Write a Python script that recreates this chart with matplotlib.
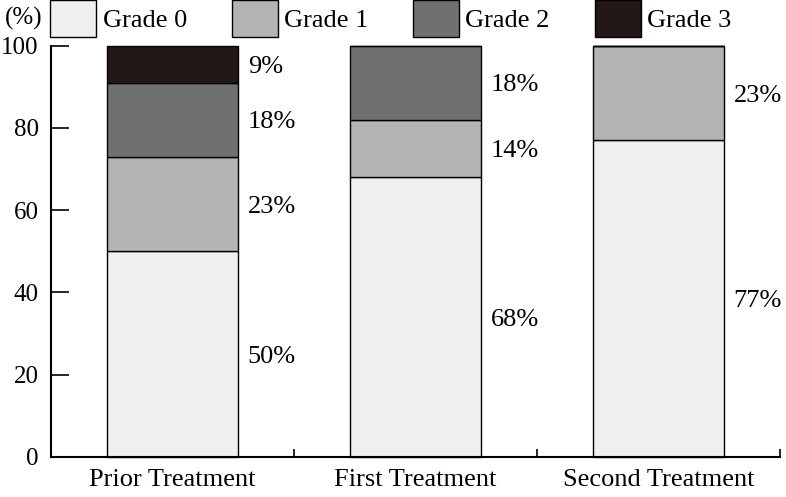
import numpy as np
import matplotlib.pyplot as plt

# Data
groups = ['Prior Treatment', 'First Treatment', 'Second Treatment']
grades = ['Grade 0', 'Grade 1', 'Grade 2', 'Grade 3']
grade0 = [50, 68, 77]
grade1 = [23, 14, 23]
grade2 = [18, 18, 0]
grade3 = [9, 0, 0]
colors = ['#eef0ef', '#b3b3b3', '#707070', '#231815']

plt.rcParams['font.family'] = ['Liberation Serif', 'DejaVu Serif']
plt.rcParams['font.size'] = 19

fig = plt.figure(figsize=(7.86, 4.97), dpi=100)
ax = fig.add_axes([0.065, 0.0805, 0.927, 0.8275])

x = np.arange(len(groups))
width = 0.54
bottom = np.zeros(len(groups))
for vals, name, col in zip([grade0, grade1, grade2, grade3], grades, colors):
    vals = np.array(vals, dtype=float)
    ax.bar(x, vals, width, bottom=bottom, color=col, edgecolor='black',
           linewidth=1, label=name, clip_on=False)
    # percentage labels right of each bar, at segment centre
    for xi, v, b in zip(x, vals, bottom):
        if v > 0:
            ax.text(xi + width / 2 + 0.04, b + v / 2, f'{int(v)}%',
                    ha='left', va='center_baseline', fontsize=19)
    bottom += vals

ax.set_xlim(-0.5, 2.5)
ax.set_ylim(0, 100)
ax.set_xticks(x)
ax.set_xticklabels(groups)
ax.set_xticks([0.5, 1.5, 2.5], minor=True)
ax.tick_params(axis='x', which='major', length=0, pad=9)
ax.tick_params(axis='x', which='minor', direction='in', length=6, width=1.2)
ax.set_yticks(range(0, 101, 20))
ax.tick_params(axis='y', direction='in', length=13, width=1.2, pad=9,
               labelsize=18)

for s in ['top', 'right']:
    ax.spines[s].set_visible(False)
for s in ['left', 'bottom']:
    ax.spines[s].set_linewidth(1.5)

fig.text(0.006, 0.962, '(%)', ha='left', va='center', fontsize=18)

fig.legend(loc='upper left', bbox_to_anchor=(0.064, 0.999), ncol=4,
           frameon=False, handlelength=1.75, handleheight=1.75,
           handletextpad=0.23, columnspacing=1.7, borderaxespad=0,
           borderpad=0)

plt.savefig('out.png', dpi=100)
